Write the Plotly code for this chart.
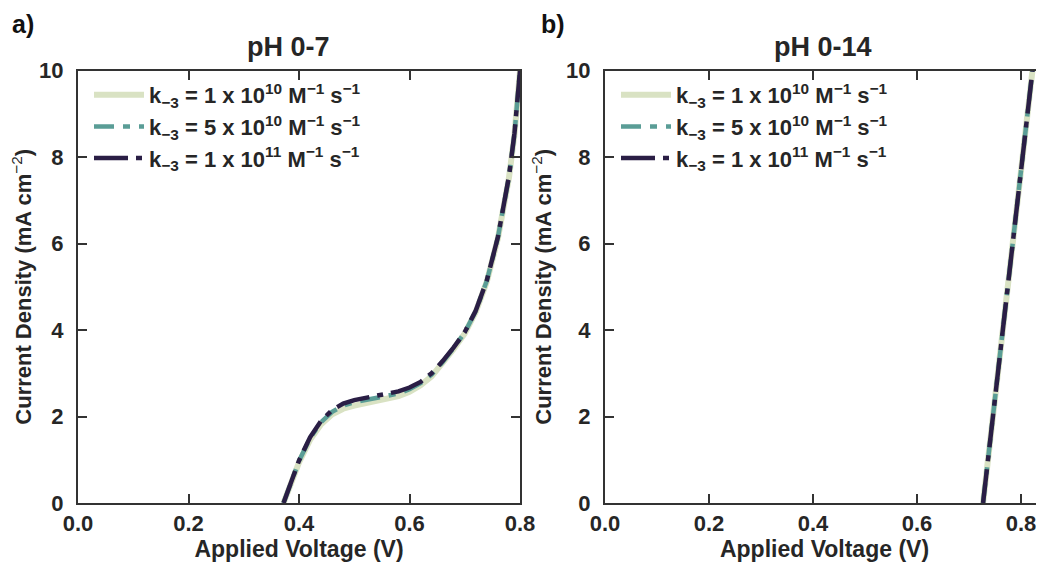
import plotly.graph_objects as go

# ---- data ----
v_left = [0.372, 0.38, 0.39, 0.40, 0.42, 0.44, 0.46, 0.48, 0.50, 0.52, 0.54, 0.56,
          0.58, 0.60, 0.62, 0.64, 0.66, 0.68, 0.70, 0.72, 0.74, 0.76, 0.78, 0.79, 0.80]
j_left_1e10 = [0.0, 0.28, 0.62, 0.94, 1.46, 1.82, 2.05, 2.18, 2.25, 2.30, 2.35, 2.40,
               2.47, 2.57, 2.72, 2.93, 3.22, 3.56, 3.92, 4.42, 5.12, 6.12, 7.52, 8.52, 10.0]
j_left_5e10 = [0.0, 0.30, 0.64, 0.97, 1.50, 1.87, 2.11, 2.25, 2.33, 2.38, 2.43, 2.47,
               2.53, 2.63, 2.77, 2.97, 3.26, 3.59, 3.94, 4.44, 5.14, 6.14, 7.54, 8.54, 10.0]
j_left_1e11 = [0.0, 0.30, 0.65, 0.98, 1.52, 1.90, 2.15, 2.30, 2.38, 2.43, 2.48, 2.52,
               2.58, 2.67, 2.80, 3.00, 3.28, 3.60, 3.95, 4.45, 5.15, 6.15, 7.55, 8.55, 10.0]

v_right = [0.727, 0.745, 0.765, 0.785, 0.805, 0.822]
j_right_1e10 = [0.0, 1.9, 4.0, 6.1, 8.2, 10.0]
j_right_5e10 = [0.0, 1.9, 4.0, 6.1, 8.2, 10.0]
j_right_1e11 = [0.0, 1.9, 4.0, 6.1, 8.2, 10.0]

series_names = [
    "k<sub>−3</sub> = 1 x 10<sup>10</sup> M<sup>−1</sup> s<sup>−1</sup>",
    "k<sub>−3</sub> = 5 x 10<sup>10</sup> M<sup>−1</sup> s<sup>−1</sup>",
    "k<sub>−3</sub> = 1 x 10<sup>11</sup> M<sup>−1</sup> s<sup>−1</sup>",
]
x_ticks = [0.0, 0.2, 0.4, 0.6, 0.8]
y_ticks = [0, 2, 4, 6, 8, 10]

colors = ["#d9e2c3", "#5a9d96", "#2a1e45"]
widths = [6, 4.5, 4.5]
dashes = ["solid", "20px,9px,7px,9px", "34px,8px,6px,8px"]

# page body adds an 8px margin; the figure is sized to fill the rest of the window
OFF = 8
W, H = 1044 - OFF, 564 - OFF


def fx(px):
    return (px - OFF) / W


def fy(py):
    return 1 - (py - OFF) / H


FONT = "Liberation Sans, Arial, sans-serif"
AX = "#333333"
TXT = "#262626"

fig = go.Figure()
left_sets = [j_left_1e10, j_left_5e10, j_left_1e11]
right_sets = [j_right_1e10, j_right_5e10, j_right_1e11]
for i in range(3):
    fig.add_trace(go.Scatter(x=v_left, y=left_sets[i], mode="lines", name=series_names[i],
                             line=dict(color=colors[i], width=widths[i], dash=dashes[i]),
                             xaxis="x", yaxis="y", legend="legend"))
for i in range(3):
    fig.add_trace(go.Scatter(x=v_right, y=right_sets[i], mode="lines", name=series_names[i],
                             line=dict(color=colors[i], width=widths[i], dash=dashes[i]),
                             xaxis="x2", yaxis="y2", legend="legend2"))

ydom = [fy(503), fy(70.5)]
axis_common = dict(showgrid=False, zeroline=False, showline=True, linecolor=AX, linewidth=2,
                   ticks="inside", ticklen=9, tickwidth=2, tickcolor=AX, automargin=False,
                   tickfont=dict(family=FONT, size=22, color=TXT, weight="bold"))
xtitle = dict(text="<b>Applied Voltage (V)</b>", font=dict(size=23, family=FONT, color=TXT), standoff=4)
ytitle = dict(text="<b>Current Density (mA cm</b><sup>−2</sup><b>)</b>",
              font=dict(size=22, family=FONT, color=TXT), standoff=8)

legend_font = dict(family=FONT, size=22, color=TXT, weight="bold")
fig.update_layout(
    width=W, height=H, margin=dict(l=0, r=0, t=0, b=0),
    plot_bgcolor="white", paper_bgcolor="white",
    font=dict(family=FONT, color=TXT),
    xaxis=dict(domain=[fx(78), fx(520)], range=[0, 0.8], tickvals=x_ticks, tickformat=".1f",
               mirror="ticks", anchor="y", title=xtitle, **axis_common),
    yaxis=dict(domain=ydom, range=[0, 10], tickvals=y_ticks, mirror="ticks", anchor="x",
               title=ytitle, ticklabelstandoff=8, **axis_common),
    xaxis2=dict(domain=[fx(605), 1.0], range=[0, 0.8442], tickvals=x_ticks, tickformat=".1f",
                mirror="ticks", anchor="y2", title=xtitle, **axis_common),
    yaxis2=dict(domain=ydom, range=[0, 10], tickvals=y_ticks, mirror=False, anchor="x2",
                title=ytitle, ticklabelstandoff=8, **axis_common),
    legend=dict(x=fx(89), y=fy(74), xanchor="left", yanchor="top", bgcolor="rgba(0,0,0,0)",
                font=legend_font, tracegroupgap=0, itemwidth=50),
    legend2=dict(x=fx(616), y=fy(74), xanchor="left", yanchor="top", bgcolor="rgba(0,0,0,0)",
                 font=legend_font, tracegroupgap=0, itemwidth=50),
    showlegend=True,
)

annos = [
    dict(text="<b>pH 0-7</b>", x=fx(288), y=fy(47)),
    dict(text="<b>pH 0-14</b>", x=fx(823), y=fy(47)),
]
for a in annos:
    fig.add_annotation(xref="paper", yref="paper", x=a["x"], y=a["y"], text=a["text"],
                       showarrow=False, xanchor="center", yanchor="middle",
                       font=dict(family=FONT, size=27, color=TXT))
for txt, x in [("<b>a)</b>", 23), ("<b>b)</b>", 553)]:
    fig.add_annotation(xref="paper", yref="paper", x=fx(x), y=fy(24), text=txt,
                       showarrow=False, xanchor="center", yanchor="middle",
                       font=dict(family=FONT, size=25, color="#111111"))

fig.write_html("out.html")
